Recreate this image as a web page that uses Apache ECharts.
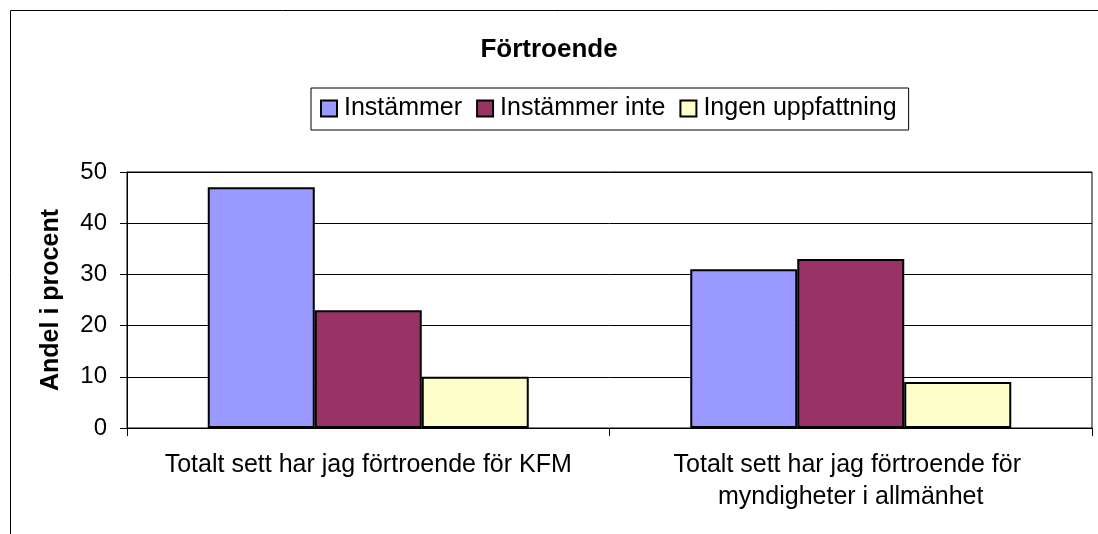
<!DOCTYPE html>
<html>
<head>
<meta charset="utf-8">
<script src="https://cdn.jsdelivr.net/npm/echarts@6/dist/echarts.min.js"></script>
<style>
  html, body { margin: 0; padding: 0; background: #fff; }
  #chart { width: 1098px; height: 534px; }
</style>
</head>
<body>
<div id="chart"></div>
<script>
const categories = [
  "Totalt sett har jag förtroende för KFM",
  "Totalt sett har jag förtroende för myndigheter i allmänhet"
];
const seriesNames = ["Instämmer", "Instämmer inte", "Ingen uppfattning"];
const instammer = [47, 31];
const instammerInte = [23, 33];
const ingenUppfattning = [10, 9];
const yTicks = { min: 0, max: 50, interval: 10 };

const colors = ["#9999FF", "#993366", "#FFFFCC"];
const values = [instammer, instammerInte, ingenUppfattning];
const FONT = "Liberation Sans, Arial, sans-serif";

const chart = echarts.init(document.getElementById("chart"), null, { renderer: "canvas" });
chart.setOption({
  backgroundColor: "#ffffff",
  animation: false,
  textStyle: { fontFamily: FONT, color: "#000" },
  graphic: [{
    type: "rect",
    shape: { x: 10.5, y: 10.5, width: 2000, height: 2000 },
    style: { fill: "none", stroke: "#000", lineWidth: 1 },
    silent: true
  }],
  title: {
    text: "Förtroende",
    left: "center",
    top: 32,
    textStyle: { fontFamily: FONT, fontWeight: "bold", fontSize: 26, color: "#000" }
  },
  legend: {
    data: seriesNames,
    left: 311,
    top: 88,
    padding: [8, 12, 9, 9],
    itemGap: 14,
    itemWidth: 16,
    itemHeight: 16,
    icon: "rect",
    borderColor: "#000",
    borderWidth: 1,
    itemStyle: { borderColor: "#000", borderWidth: 2 },
    textStyle: { fontFamily: FONT, fontSize: 25, color: "#000", padding: [0, 0, 0, 2] }
  },
  grid: {
    left: 127, right: 6, top: 172, bottom: 106,
    show: true, borderColor: "#000", borderWidth: 1, backgroundColor: "transparent"
  },
  xAxis: {
    type: "category",
    data: categories,
    axisLine: { lineStyle: { color: "#000", width: 1 } },
    axisTick: { show: true, length: 8, lineStyle: { color: "#000" } },
    axisLabel: {
      interval: 0,
      margin: 21,
      fontFamily: FONT,
      fontSize: 25,
      lineHeight: 32,
      color: "#000",
      width: 445,
      overflow: "break",
      align: "center"
    }
  },
  yAxis: {
    type: "value",
    min: yTicks.min,
    max: yTicks.max,
    interval: yTicks.interval,
    name: "Andel i procent",
    nameLocation: "middle",
    nameGap: 63,
    nameTextStyle: { fontFamily: FONT, fontWeight: "bold", fontSize: 25, color: "#000" },
    axisLine: { show: true, lineStyle: { color: "#000", width: 1 } },
    axisTick: { show: true, length: 7, lineStyle: { color: "#000" } },
    axisLabel: { margin: 20, fontFamily: FONT, fontSize: 24, color: "#000" },
    splitLine: { show: true, lineStyle: { color: "#000", width: 1 } }
  },
  series: seriesNames.map((name, i) => ({
    name: name,
    type: "bar",
    data: values[i],
    barWidth: 107,
    barGap: "0%",
    itemStyle: { color: colors[i], borderColor: "#000", borderWidth: 2 }
  }))
});
</script>
</body>
</html>
